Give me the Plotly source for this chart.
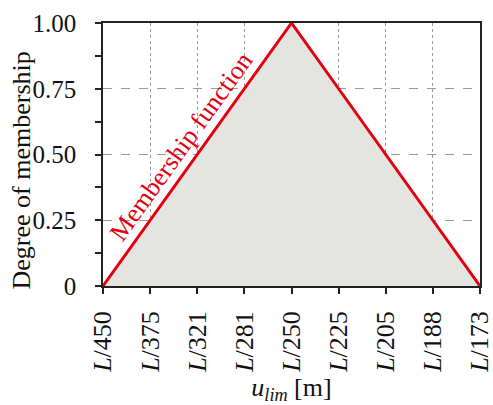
import plotly.graph_objects as go

# Deflection limits and the triangular membership degrees
limit_labels = ["L/450", "L/375", "L/321", "L/281", "L/250", "L/225", "L/205", "L/188", "L/173"]
membership = [0, 0.25, 0.50, 0.75, 1.00, 0.75, 0.50, 0.25, 0]
y_ticks = [0, 0.25, 0.50, 0.75, 1.00]
y_tick_text = ["0", "0.25", "0.50", "0.75", "1.00"]

x_pos = list(range(len(limit_labels)))
tick_text = ["<i>L</i>/" + s.split("/")[1] for s in limit_labels]

FONT = "Liberation Serif"
fig = go.Figure()

fig.add_trace(go.Scatter(
    x=x_pos, y=membership, mode="lines",
    fill="tozeroy", fillcolor="#e4e5e0",
    line=dict(color="#e3000f", width=3),
    hoverinfo="skip", showlegend=False,
))

# label running along the rising edge of the triangle
fig.add_annotation(
    x=1.66, y=0.53, xref="x", yref="y",
    text="Membership function", showarrow=False,
    textangle=-54.3,
    font=dict(family=FONT, size=26, color="#e3000f"),
)

# y-axis title, placed by hand
fig.add_annotation(
    x=-0.217, y=0.44, xref="paper", yref="paper",
    xanchor="center", yanchor="middle",
    text="Degree of membership", showarrow=False, textangle=-90,
    font=dict(family=FONT, size=26, color="#111"),
)

fig.update_xaxes(
    range=[0, 8], tickmode="array", tickvals=x_pos, ticktext=tick_text,
    tickangle=-90, ticks="outside", ticklen=6, tickwidth=1.5, tickcolor="#222",
    ticklabelstandoff=7, ticklabeloverflow="allow", automargin=False,
    showline=True, linecolor="#222", linewidth=1.5, mirror=True,
    showgrid=True, gridcolor="#9a9a9a", griddash="dot", gridwidth=1,
    zeroline=False,
    tickfont=dict(family=FONT, size=26, color="#111"),
    title=dict(text="<i>u</i><sub><i>lim</i></sub> [m]", font=dict(family=FONT, size=26, color="#111"), standoff=4),
)
fig.update_yaxes(
    range=[0, 1], tickmode="array", tickvals=y_ticks, ticktext=y_tick_text,
    ticks="outside", ticklen=6, tickwidth=1.5, tickcolor="#222",
    ticklabelstandoff=14, automargin=False,
    minor=dict(tickvals=[0.125, 0.375, 0.625, 0.875], ticks="outside", ticklen=6, tickwidth=1.5, tickcolor="#222", showgrid=False),
    showline=True, linecolor="#222", linewidth=1.5, mirror=True,
    showgrid=True, gridcolor="#9a9a9a", griddash="dash", gridwidth=1,
    zeroline=False,
    tickfont=dict(family=FONT, size=25, color="#111"),
)

fig.update_layout(
    width=493, height=405,
    margin=dict(l=103, r=13, t=23, b=119),
    plot_bgcolor="white", paper_bgcolor="white",
)

fig.write_html("out.html")
